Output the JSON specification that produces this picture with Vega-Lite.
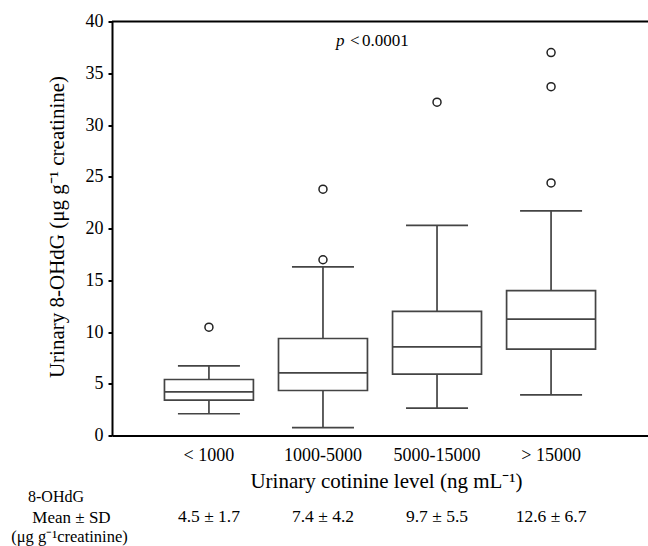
{
  "$schema": "https://vega.github.io/schema/vega-lite/v6.json",
  "width": 536,
  "height": 414,
  "autosize": {"type": "none"},
  "padding": {"left": 112, "top": 21.5, "right": 0, "bottom": 110.5},
  "background": "white",
  "config": {
    "view": {"stroke": null},
    "font": "Liberation Serif",
    "text": {"font": "Liberation Serif"},
    "axis": {"grid": false, "labelColor": "black", "titleColor": "black", "titleFontWeight": "normal", "labelFont": "Liberation Serif", "titleFont": "Liberation Serif"}
  },
  "datasets": {
    "boxes": [
      {"group": "< 1000", "lower": 2.1, "q1": 3.42, "median": 4.22, "q3": 5.41, "upper": 6.73, "mean_sd": "4.5 ± 1.7"},
      {"group": "1000-5000", "lower": 0.77, "q1": 4.35, "median": 6.06, "q3": 9.37, "upper": 16.3, "mean_sd": "7.4 ± 4.2"},
      {"group": "5000-15000", "lower": 2.65, "q1": 5.93, "median": 8.57, "q3": 12.0, "upper": 20.3, "mean_sd": "9.7 ± 5.5"},
      {"group": "> 15000", "lower": 3.93, "q1": 8.35, "median": 11.25, "q3": 14.0, "upper": 21.7, "mean_sd": "12.6 ± 6.7"}
    ],
    "outliers": [
      {"group": "< 1000", "value": 10.47},
      {"group": "1000-5000", "value": 16.98},
      {"group": "1000-5000", "value": 23.8},
      {"group": "5000-15000", "value": 32.2},
      {"group": "> 15000", "value": 24.4},
      {"group": "> 15000", "value": 33.7},
      {"group": "> 15000", "value": 37.0}
    ],
    "annotation": [
      {"group": "1000-5000", "level": 37.65, "italic": "p", "op": "<", "pvalue": "0.0001"}
    ]
  },
  "layer": [
    {
      "data": {"name": "boxes"},
      "mark": {"type": "rule", "color": "#444444", "strokeWidth": 1.7},
      "encoding": {
        "x": {"field": "group", "type": "nominal", "sort": null,
          "scale": {"type": "band", "domain": ["< 1000", "1000-5000", "5000-15000", "> 15000"], "paddingInner": 0, "paddingOuter": 0.35},
          "axis": {"orient": "bottom", "domain": false, "ticks": false, "labels": false, "title": "8-OHdG", "titleFontSize": 16, "titleX": -56.5, "titleY": 66, "titleAlign": "center", "titleBaseline": "alphabetic", "titleAnchor": null}},
        "y": {"field": "lower", "type": "quantitative",
          "scale": {"domain": [0, 40], "nice": false, "zero": true},
          "axis": {"orient": "left", "values": [0, 5, 10, 15, 20, 25, 30, 35, 40], "domainColor": "black", "domainWidth": 2, "tickColor": "black", "tickWidth": 2, "tickSize": 4, "labelFontSize": 18, "labelPadding": 5, "title": "Urinary 8-OHdG (μg g⁻¹ creatinine)", "titleFontSize": 21, "titleAngle": -90, "titleX": -55, "titleY": 205, "titleAlign": "center", "titleBaseline": "middle"}},
        "y2": {"field": "q1"}
      }
    },
    {
      "data": {"name": "boxes"},
      "mark": {"type": "rule", "color": "#444444", "strokeWidth": 1.7},
      "encoding": {
        "x": {"field": "group", "type": "nominal", "sort": null,
          "scale": {"type": "band", "domain": ["< 1000", "1000-5000", "5000-15000", "> 15000"], "paddingInner": 0, "paddingOuter": 0.35},
          "axis": null},
        "y": {"field": "q3", "type": "quantitative"},
        "y2": {"field": "upper"}
      }
    },
    {
      "data": {"name": "boxes"},
      "transform": [{"fold": ["lower", "upper"], "as": ["stat", "capvalue"]}],
      "mark": {"type": "tick", "color": "#444444", "size": 62, "thickness": 1.7, "opacity": 1},
      "encoding": {
        "x": {"field": "group", "type": "nominal", "sort": null,
          "scale": {"type": "band", "domain": ["< 1000", "1000-5000", "5000-15000", "> 15000"], "paddingInner": 0, "paddingOuter": 0.35},
          "axis": null},
        "y": {"field": "capvalue", "type": "quantitative"}
      }
    },
    {
      "data": {"name": "boxes"},
      "mark": {"type": "bar", "fill": "white", "stroke": "#444444", "strokeWidth": 1.7, "width": {"band": 0.78}},
      "encoding": {
        "x": {"field": "group", "type": "nominal", "sort": null,
          "scale": {"type": "band", "domain": ["< 1000", "1000-5000", "5000-15000", "> 15000"], "paddingInner": 0, "paddingOuter": 0.35},
          "axis": {"orient": "bottom", "domainColor": "black", "domainWidth": 2, "ticks": false, "tickSize": 0, "labelAngle": 0, "labelFontSize": 18, "labelPadding": 11, "title": "Urinary cotinine level (ng mL⁻¹)", "titleFontSize": 21, "titleX": 274, "titleY": 52, "titleAlign": "center", "titleBaseline": "alphabetic"}},
        "y": {"field": "q1", "type": "quantitative"},
        "y2": {"field": "q3"}
      }
    },
    {
      "data": {"name": "boxes"},
      "mark": {"type": "tick", "color": "#444444", "size": 89, "thickness": 1.7, "opacity": 1},
      "encoding": {
        "x": {"field": "group", "type": "nominal", "sort": null,
          "scale": {"type": "band", "domain": ["< 1000", "1000-5000", "5000-15000", "> 15000"], "paddingInner": 0, "paddingOuter": 0.35},
          "axis": null},
        "y": {"field": "median", "type": "quantitative"}
      }
    },
    {
      "data": {"name": "outliers"},
      "mark": {"type": "point", "shape": "circle", "filled": false, "stroke": "#222222", "strokeWidth": 1.5, "size": 64, "opacity": 1},
      "encoding": {
        "x": {"field": "group", "type": "nominal", "sort": null,
          "scale": {"type": "band", "domain": ["< 1000", "1000-5000", "5000-15000", "> 15000"], "paddingInner": 0, "paddingOuter": 0.35},
          "axis": {"orient": "bottom", "domain": false, "ticks": false, "labels": false, "title": "(μg g⁻¹creatinine)", "titleFontSize": 16.5, "titleX": -43, "titleY": 106, "titleAlign": "center", "titleBaseline": "alphabetic"}},
        "y": {"field": "value", "type": "quantitative"}
      }
    },
    {
      "data": {"name": "boxes"},
      "mark": {"type": "text", "font": "Liberation Serif", "fontSize": 17.5, "color": "black", "dy": 86, "baseline": "alphabetic", "align": "center", "clip": false},
      "encoding": {
        "x": {"field": "group", "type": "nominal", "sort": null,
          "scale": {"type": "band", "domain": ["< 1000", "1000-5000", "5000-15000", "> 15000"], "paddingInner": 0, "paddingOuter": 0.35},
          "axis": {"orient": "bottom", "domain": false, "ticks": false, "labels": false, "title": "Mean ± SD", "titleFontSize": 17, "titleX": -41, "titleY": 86.6, "titleAlign": "center", "titleBaseline": "alphabetic"}},
        "y": {"datum": 0, "type": "quantitative"},
        "text": {"field": "mean_sd"}
      }
    },
    {
      "data": {"values": [{"top": 40}]},
      "mark": {"type": "rule", "color": "black", "strokeWidth": 2},
      "encoding": {
        "y": {"field": "top", "type": "quantitative"}
      }
    },
    {
      "data": {"name": "annotation"},
      "mark": {"type": "text", "font": "Liberation Serif", "fontStyle": "italic", "fontSize": 17, "color": "black", "dx": 13, "align": "left", "baseline": "alphabetic"},
      "encoding": {
        "x": {"field": "group", "type": "nominal",
          "scale": {"type": "band", "domain": ["< 1000", "1000-5000", "5000-15000", "> 15000"], "paddingInner": 0, "paddingOuter": 0.35},
          "axis": null},
        "y": {"field": "level", "type": "quantitative"},
        "text": {"field": "italic"}
      }
    },
    {
      "data": {"name": "annotation"},
      "mark": {"type": "text", "font": "Liberation Serif", "fontSize": 17, "color": "black", "dx": 27, "align": "left", "baseline": "alphabetic"},
      "encoding": {
        "x": {"field": "group", "type": "nominal",
          "scale": {"type": "band", "domain": ["< 1000", "1000-5000", "5000-15000", "> 15000"], "paddingInner": 0, "paddingOuter": 0.35},
          "axis": null},
        "y": {"field": "level", "type": "quantitative"},
        "text": {"field": "op"}
      }
    },
    {
      "data": {"name": "annotation"},
      "mark": {"type": "text", "font": "Liberation Serif", "fontSize": 17, "color": "black", "dx": 39, "align": "left", "baseline": "alphabetic"},
      "encoding": {
        "x": {"field": "group", "type": "nominal",
          "scale": {"type": "band", "domain": ["< 1000", "1000-5000", "5000-15000", "> 15000"], "paddingInner": 0, "paddingOuter": 0.35},
          "axis": null},
        "y": {"field": "level", "type": "quantitative"},
        "text": {"field": "pvalue"}
      }
    }
  ],
  "resolve": {"axis": {"x": "independent"}}
}
